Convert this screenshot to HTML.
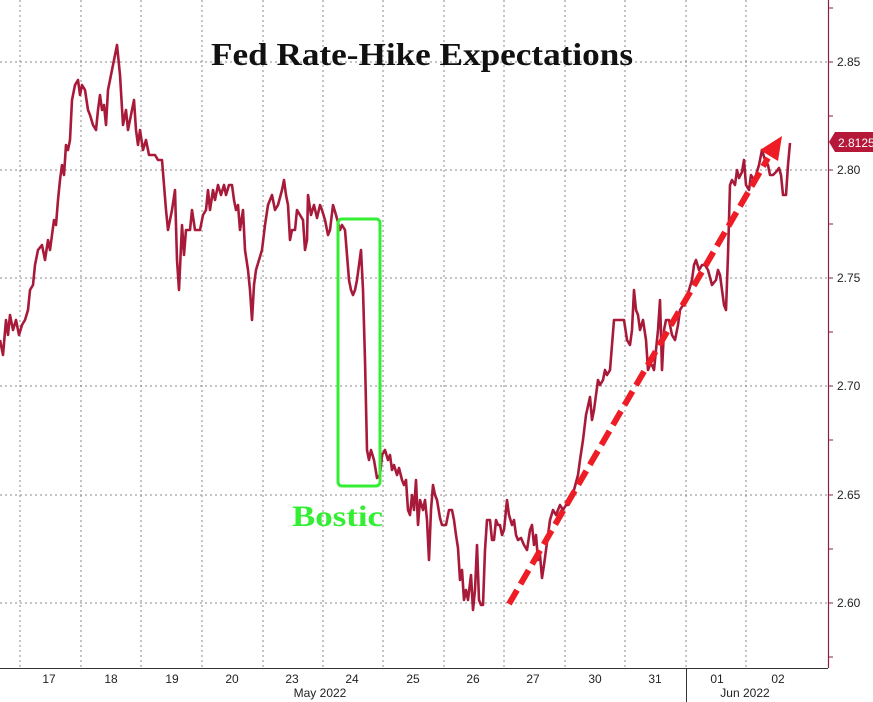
<!DOCTYPE html>
<html><head><meta charset="utf-8"><style>
html,body{margin:0;padding:0;background:#fff;}
svg{display:block;}
</style></head><body>
<svg width="873" height="702" viewBox="0 0 873 702" xmlns="http://www.w3.org/2000/svg">
<rect width="873" height="702" fill="#fff"/>
<g stroke="#888" stroke-width="1" stroke-dasharray="2,3">
<line x1="0" y1="62" x2="828" y2="62"/>
<line x1="0" y1="170" x2="828" y2="170"/>
<line x1="0" y1="278" x2="828" y2="278"/>
<line x1="0" y1="386" x2="828" y2="386"/>
<line x1="0" y1="495" x2="828" y2="495"/>
<line x1="0" y1="603" x2="828" y2="603"/>
<line x1="20" y1="0" x2="20" y2="668"/>
<line x1="81" y1="0" x2="81" y2="668"/>
<line x1="141" y1="0" x2="141" y2="668"/>
<line x1="202" y1="0" x2="202" y2="668"/>
<line x1="263" y1="0" x2="263" y2="668"/>
<line x1="323" y1="0" x2="323" y2="668"/>
<line x1="383" y1="0" x2="383" y2="668"/>
<line x1="444" y1="0" x2="444" y2="668"/>
<line x1="504" y1="0" x2="504" y2="668"/>
<line x1="565" y1="0" x2="565" y2="668"/>
<line x1="625" y1="0" x2="625" y2="668"/>
<line x1="686" y1="0" x2="686" y2="668"/>
<line x1="746" y1="0" x2="746" y2="668"/>
</g>
<line x1="0" y1="668.5" x2="828" y2="668.5" stroke="#333" stroke-width="1"/>
<line x1="686.5" y1="668" x2="686.5" y2="702" stroke="#333" stroke-width="1"/>
<line x1="828.5" y1="0" x2="828.5" y2="668" stroke="#8a2040" stroke-width="1.2"/>
<g stroke="#8a2040" stroke-width="1">
<line x1="828" y1="8" x2="833" y2="8"/><line x1="828" y1="62" x2="833" y2="62"/><line x1="828" y1="116" x2="833" y2="116"/><line x1="828" y1="170" x2="833" y2="170"/><line x1="828" y1="224" x2="833" y2="224"/><line x1="828" y1="278" x2="833" y2="278"/><line x1="828" y1="332" x2="833" y2="332"/><line x1="828" y1="386" x2="833" y2="386"/><line x1="828" y1="440" x2="833" y2="440"/><line x1="828" y1="495" x2="833" y2="495"/><line x1="828" y1="549" x2="833" y2="549"/><line x1="828" y1="603" x2="833" y2="603"/><line x1="828" y1="657" x2="833" y2="657"/>
</g>
<g font-family="Liberation Sans, sans-serif" font-size="12" fill="#222">
<text x="837" y="66">2.85</text>
<text x="837" y="174">2.80</text>
<text x="837" y="282">2.75</text>
<text x="837" y="390">2.70</text>
<text x="837" y="499">2.65</text>
<text x="837" y="607">2.60</text>
</g>
<g font-family="Liberation Sans, sans-serif" font-size="12" fill="#222" text-anchor="middle">
<text x="49" y="683">17</text><text x="111" y="683">18</text><text x="172" y="683">19</text><text x="232" y="683">20</text><text x="292" y="683">23</text><text x="352" y="683">24</text><text x="413" y="683">25</text><text x="473" y="683">26</text><text x="533" y="683">27</text><text x="595" y="683">30</text><text x="655" y="683">31</text><text x="717" y="683">01</text><text x="778" y="683">02</text>
<text x="320" y="697">May 2022</text><text x="745" y="697">Jun 2022</text>
</g>
<polyline fill="none" stroke="#a81a3a" stroke-width="2.6" stroke-linejoin="round" points="0,340 3,355 6,320 8,335 10,315 13,330 16,320 19,335 22,325 25,320 28,310 30,290 33,285 35,265 38,250 42,245 45,260 48,240 50,250 52,235 54,220 56,225 58,200 60,180 62,165 64,175 66,145 68,150 70,140 72,100 75,85 78,80 80,95 82,85 85,90 88,110 90,115 93,125 96,130 98,110 100,95 102,110 104,105 106,125 108,90 111,75 114,60 117,45 120,75 123,125 126,110 128,130 131,115 134,100 136,130 138,145 140,130 143,150 146,140 149,155 152,155 155,155 158,160 162,160 164,185 166,210 168,230 172,210 175,190 177,260 179,290 182,225 184,255 186,230 190,230 192,210 195,230 198,230 200,230 203,215 206,210 208,190 210,210 213,190 215,200 218,185 221,195 224,185 226,195 229,185 232,185 234,200 236,210 238,205 240,230 243,210 245,250 248,270 250,290 252,320 254,285 256,270 259,260 262,250 265,225 268,205 272,195 275,210 278,205 282,190 284,180 286,195 288,205 290,240 292,230 295,230 297,210 300,215 303,220 305,250 307,240 308,195 311,215 314,205 317,218 320,205 322,210 325,220 328,235 330,230 333,205 336,215 340,230 342,225 345,230 347,255 349,280 351,290 353,295 355,290 357,280 359,265 361,250 363,290 365,360 367,450 369,460 371,450 374,460 377,478 380,475 382,455 385,450 388,460 390,455 392,470 394,465 397,475 399,468 402,480 404,485 406,480 408,510 410,515 412,495 414,510 416,480 418,525 420,500 423,510 425,500 427,520 429,560 431,510 433,485 435,495 437,500 440,518 442,525 444,525 446,525 449,510 452,510 454,520 456,535 458,548 460,580 462,570 464,600 466,590 468,600 471,575 473,610 475,590 477,545 479,600 481,605 483,605 485,550 487,520 490,520 492,540 494,540 496,520 498,525 500,525 502,535 504,530 507,500 509,515 512,525 514,520 516,535 518,540 521,538 524,545 527,550 530,530 532,525 534,545 536,535 538,560 540,555 542,578 544,565 546,550 548,535 550,520 553,510 556,515 560,505 563,510 566,505 568,505 571,495 574,490 578,475 580,460 583,440 586,415 590,397 592,420 594,410 596,395 598,380 600,385 603,380 605,370 607,375 610,370 612,345 614,320 617,320 624,320 627,340 630,345 632,330 634,290 636,310 638,315 640,330 643,320 646,340 648,370 650,365 652,365 654,370 656,350 658,330 660,300 662,370 664,330 666,320 669,320 672,335 675,340 678,325 680,310 683,305 686,300 689,290 692,280 694,265 696,260 699,270 702,265 705,265 708,270 712,285 716,280 718,270 720,275 722,290 724,305 726,310 728,255 730,185 732,180 735,185 737,170 739,178 742,172 744,160 746,185 749,190 751,175 754,180 756,175 759,165 762,150 765,160 768,165 770,175 773,175 776,172 779,168 781,175 783,195 786,195 788,165 790,143"/>
<line x1="509" y1="604" x2="768" y2="158" stroke="#ee1c25" stroke-width="6" stroke-dasharray="16,7"/>
<polygon points="782,136 760,150 778,161" fill="#ee1c25"/>
<rect x="338" y="219" width="42" height="267" rx="4" fill="none" stroke="#33ee33" stroke-width="3"/>
<text x="292" y="526" textLength="91" lengthAdjust="spacingAndGlyphs" font-family="Liberation Serif, serif" font-weight="bold" font-size="30" fill="#33ee33">Bostic</text>
<text x="211" y="65" textLength="422" lengthAdjust="spacingAndGlyphs" font-family="Liberation Serif, serif" font-weight="bold" font-size="32" fill="#111">Fed Rate-Hike Expectations</text>
<polygon points="829,142 835,132 873,132 873,152 835,152" fill="#b51838"/>
<text x="838" y="147" font-family="Liberation Sans, sans-serif" font-size="12" fill="#fff">2.8125</text>
</svg>
</body></html>
